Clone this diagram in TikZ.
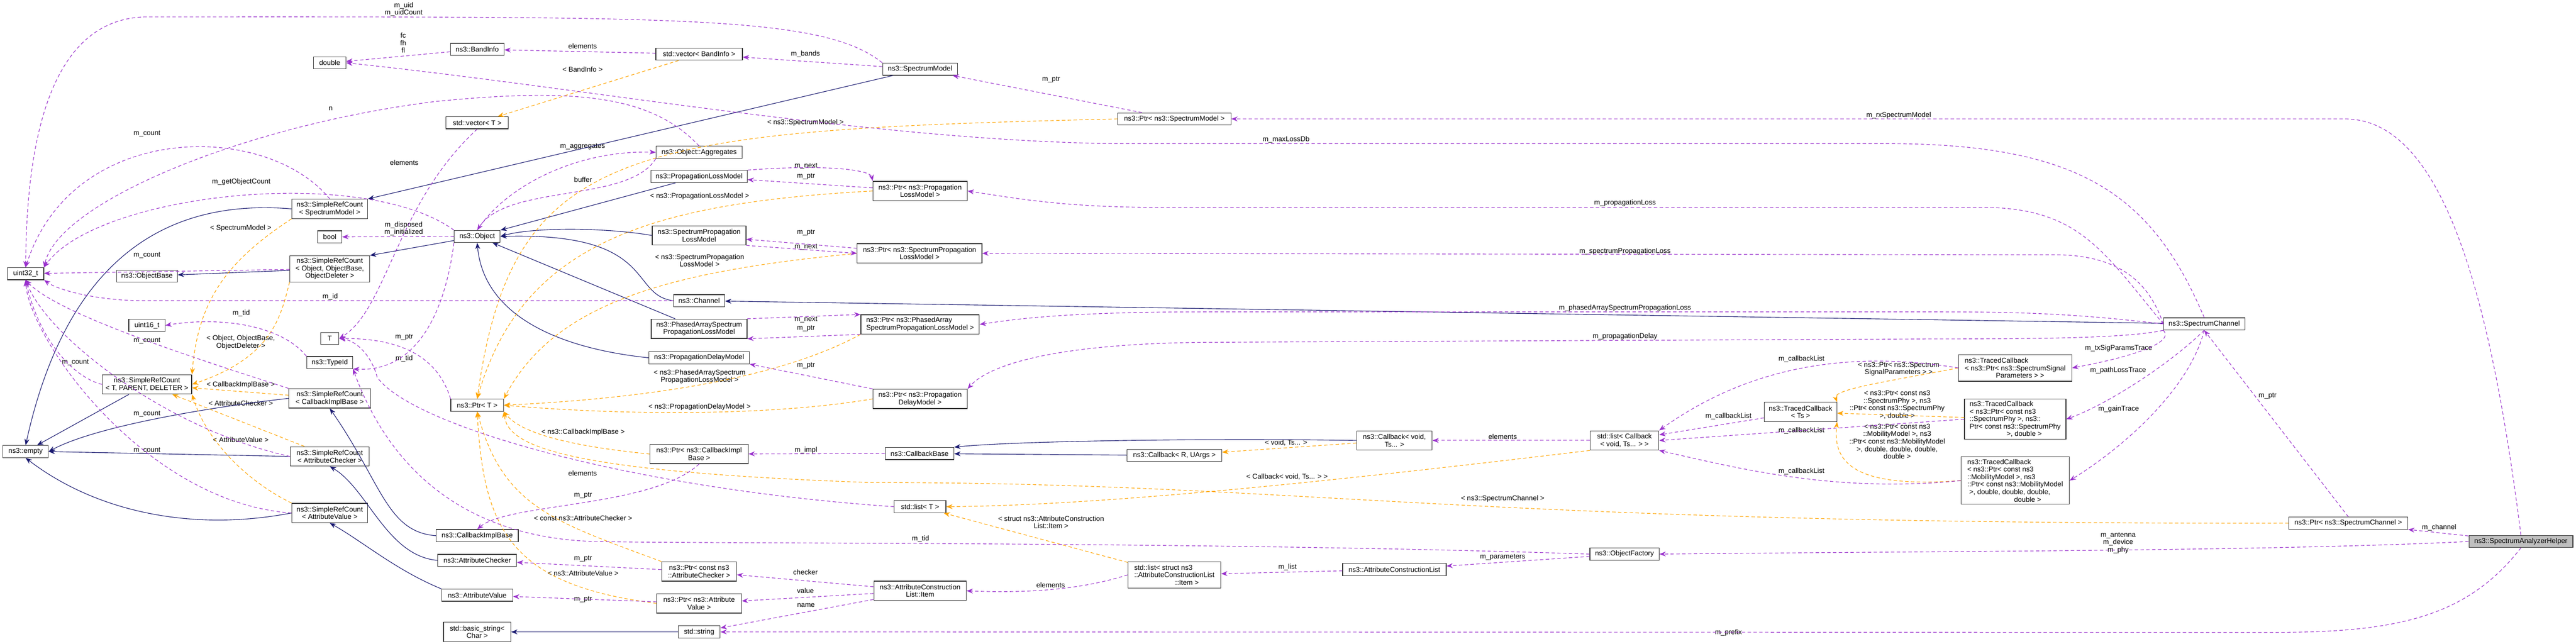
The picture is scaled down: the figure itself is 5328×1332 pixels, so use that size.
\documentclass[tikz,border=0pt]{standalone}
\usepackage{fontspec}
\setmainfont{Liberation Sans}
\usetikzlibrary{arrows.meta,calc}
\definecolor{navyc}{RGB}{25,25,112}
\definecolor{purp}{RGB}{154,50,205}
\definecolor{orng}{RGB}{255,165,0}
\newcommand\fs{\fontsize{14.5}{15.5}\selectfont}
\tikzset{
 box/.style={draw=black!80,line width=1.3pt,fill=white,font=\fs,align=center,inner sep=1pt},
 lbl/.style={font=\fs,align=center,inner sep=1pt},
 inh/.style={draw=navyc,line width=1.2pt,-{Stealth[length=13pt,width=10pt]}},
 use/.style={draw=purp,line width=1.2pt,dash pattern=on 7pt off 5pt,-{Stealth[length=13pt,width=10pt]}},
 tmpl/.style={draw=orng,line width=1.2pt,dash pattern=on 7pt off 5pt,-{Stealth[length=13pt,width=10pt]}},
}
\begin{document}
\begin{tikzpicture}[x=1pt,y=-1pt]
\fill[white] (0,0) rectangle (5328,1332);
\useasboundingbox (0,0) rectangle (5328,1332);
% nodes
\node[box,minimum width=75,minimum height=25] (u32) at (53,566) {uint32\_t};
\node[box,minimum width=67,minimum height=25] (dbl) at (682,130) {double};
\node[box,minimum width=157,minimum height=40] (srcSM) at (682,432) {ns3::SimpleRefCount\\< SpectrumModel >};
\node[box,minimum width=50,minimum height=25] (bool) at (682,490) {bool};
\node[box,minimum width=165,minimum height=54] (srcObj) at (682,556) {ns3::SimpleRefCount\\< Object, ObjectBase,\\ObjectDeleter >};
\node[box,minimum width=126,minimum height=25] (objb) at (304,571) {ns3::ObjectBase};
\node[box,minimum width=75,minimum height=25] (u16) at (304,673) {uint16\_t};
\node[box,minimum width=38,minimum height=25] (tT) at (682,700) {T};
\node[box,minimum width=95,minimum height=25] (tid) at (682,750) {ns3::TypeId};
\node[box,minimum width=185,minimum height=40] (srcTPD) at (304,795) {ns3::SimpleRefCount\\< T, PARENT, DELETER >};
\node[box,minimum width=169,minimum height=40] (srcCIB) at (682,824) {ns3::SimpleRefCount\\< CallbackImplBase >};
\node[box,minimum width=94,minimum height=25] (empty) at (53,934) {ns3::empty};
\node[box,minimum width=163,minimum height=40] (srcAC) at (682,944) {ns3::SimpleRefCount\\< AttributeChecker >};
\node[box,minimum width=157,minimum height=40] (srcAV) at (682,1061) {ns3::SimpleRefCount\\< AttributeValue >};
\node[box,minimum width=111,minimum height=25] (bi) at (987,102) {ns3::BandInfo};
\node[box,minimum width=179,minimum height=25] (vecBI) at (1446,112) {std::vector< BandInfo >};
\node[box,minimum width=129,minimum height=25] (vecT) at (987,254) {std::vector< T >};
\node[box,minimum width=178,minimum height=25] (agg) at (1446,315) {ns3::Object::Aggregates};
\node[box,minimum width=95,minimum height=25] (obj) at (987,489) {ns3::Object};
\node[box,minimum width=199,minimum height=25] (plm) at (1446,365) {ns3::PropagationLossModel};
\node[box,minimum width=194,minimum height=40] (splm) at (1446,487) {ns3::SpectrumPropagation\\LossModel};
\node[box,minimum width=106,minimum height=25] (chan) at (1446,622) {ns3::Channel};
\node[box,minimum width=198,minimum height=40] (pasplm) at (1446,680) {ns3::PhasedArraySpectrum\\PropagationLossModel};
\node[box,minimum width=208,minimum height=25] (pdm) at (1446,740) {ns3::PropagationDelayModel};
\node[box,minimum width=109,minimum height=25] (ptrT) at (987,838) {ns3::Ptr< T >};
\node[box,minimum width=203,minimum height=40] (ptrCIB) at (1446,939) {ns3::Ptr< ns3::CallbackImpl\\Base >};
\node[box,minimum width=170,minimum height=25] (cib) at (987,1108) {ns3::CallbackImplBase};
\node[box,minimum width=163,minimum height=25] (ac) at (987,1159) {ns3::AttributeChecker};
\node[box,minimum width=155,minimum height=40] (ptrAC) at (1446,1182) {ns3::Ptr< const ns3\\::AttributeChecker >};
\node[box,minimum width=147,minimum height=25] (av) at (987,1231) {ns3::AttributeValue};
\node[box,minimum width=175,minimum height=40] (ptrAV) at (1446,1248) {ns3::Ptr< ns3::Attribute\\Value >};
\node[box,minimum width=139,minimum height=40] (bstr) at (987,1307) {std::basic\_string<\\Char >};
\node[box,minimum width=87,minimum height=25] (str) at (1446,1307) {std::string};
\node[box,minimum width=155,minimum height=25] (sm) at (1903,143) {ns3::SpectrumModel};
\node[box,minimum width=234,minimum height=25] (ptrSM) at (2429,246) {ns3::Ptr< ns3::SpectrumModel >};
\node[box,minimum width=195,minimum height=40] (ptrPLM) at (1903,395) {ns3::Ptr< ns3::Propagation\\LossModel >};
\node[box,minimum width=258,minimum height=40] (ptrSPLM) at (1902,524) {ns3::Ptr< ns3::SpectrumPropagation\\LossModel >};
\node[box,minimum width=245,minimum height=40,align=left] (ptrPA) at (1903,671) {ns3::Ptr< ns3::PhasedArray\\SpectrumPropagationLossModel >};
\node[box,minimum width=195,minimum height=40] (ptrPDM) at (1903,825) {ns3::Ptr< ns3::Propagation\\DelayModel >};
\node[box,minimum width=142,minimum height=25] (cbb) at (1902,938) {ns3::CallbackBase};
\node[box,minimum width=196,minimum height=25] (cbR) at (2429,942) {ns3::Callback< R, UArgs >};
\node[box,minimum width=107,minimum height=25] (listT) at (1903,1048) {std::list< T >};
\node[box,minimum width=192,minimum height=54,align=left] (listS) at (2429,1189) {std::list< struct ns3\\::AttributeConstructionList\\\ \ \ \ \ \ \ \ \ \ \ \ \ \ \ \ \ \ \ \ \ ::Item >};
\node[box,minimum width=191,minimum height=40] (item) at (1903,1222) {ns3::AttributeConstruction\\List::Item};
\node[box,minimum width=156,minimum height=40] (cbV) at (2884,911) {ns3::Callback< void,\\Ts... >};
\node[box,minimum width=142,minimum height=40] (listCb) at (3360,911) {std::list< Callback\\< void, Ts... > >};
\node[box,minimum width=143,minimum height=25] (of) at (3360,1146) {ns3::ObjectFactory};
\node[box,minimum width=214,minimum height=25] (acl) at (2884,1178) {ns3::AttributeConstructionList};
\node[box,minimum width=150,minimum height=40] (tcTs) at (3724,852) {ns3::TracedCallback\\< Ts >};
\node[box,minimum width=234,minimum height=55,align=left] (tcSSP) at (4168,761) {ns3::TracedCallback\\< ns3::Ptr< ns3::SpectrumSignal\\\ \ \ \ \ \ \ \ \ \ \ \ \ \ \ \ Parameters > >};
\node[box,minimum width=210,minimum height=83,align=left] (tcSP) at (4168,867) {ns3::TracedCallback\\< ns3::Ptr< const ns3\\::SpectrumPhy >, ns3::\\Ptr< const ns3::SpectrumPhy\\\ \ \ \ \ \ \ \ \ \ \ \ \ \ \ \ \ \ \ >, double >};
\node[box,minimum width=224,minimum height=98,align=left] (tcMM) at (4168,994) {ns3::TracedCallback\\< ns3::Ptr< const ns3\\::MobilityModel >, ns3\\::Ptr< const ns3::MobilityModel\\\ >, double, double, double,\\\ \ \ \ \ \ \ \ \ \ \ \ \ \ \ \ \ \ \ \ \ \ \ \ double >};
\node[box,minimum width=168,minimum height=25] (sc) at (4559,670) {ns3::SpectrumChannel};
\node[box,minimum width=246,minimum height=25] (ptrSC) at (4857,1082) {ns3::Ptr< ns3::SpectrumChannel >};
\node[box,minimum width=215,minimum height=25,fill=black!25] (helper) at (5214,1120) {ns3::SpectrumAnalyzerHelper};
% labels
\node[lbl] (l1) at (835,19) {m\_uid\\m\_uidCount};
\node[lbl] (l2) at (834,89) {fc\\fh\\fl};
\node[lbl] (l3) at (684,225) {n};
\node[lbl] (l4) at (304,277) {m\_count};
\node[lbl] (l5) at (836,336) {elements};
\node[lbl] (l6) at (499,376) {m\_getObjectCount};
\node[lbl] (l7) at (498,472) {< SpectrumModel >};
\node[lbl] (l8) at (835,473) {m\_disposed\\m\_initialized};
\node[lbl] (l9) at (304,528) {m\_count};
\node[lbl] (l10) at (683,614) {m\_id};
\node[lbl] (l11) at (499,648) {m\_tid};
\node[lbl] (l12) at (498,708) {< Object, ObjectBase,\\ObjectDeleter >};
\node[lbl] (l13) at (304,705) {m\_count};
\node[lbl] (l14) at (156,750) {m\_count};
\node[lbl] (l15) at (836,697) {m\_ptr};
\node[lbl] (l16) at (836,742) {m\_tid};
\node[lbl] (l17) at (498,796) {< CallbackImplBase >};
\node[lbl] (l18) at (498,834) {< AttributeChecker >};
\node[lbl] (l19) at (304,856) {m\_count};
\node[lbl] (l20) at (498,910) {< AttributeValue >};
\node[lbl] (l21) at (304,932) {m\_count};
\node[lbl] (l22) at (1205,95) {elements};
\node[lbl] (l23) at (1666,112) {m\_bands};
\node[lbl] (l24) at (1205,144) {< BandInfo >};
\node[lbl] (l25) at (1666,254) {< ns3::SpectrumModel >};
\node[lbl] (l26) at (1205,303) {m\_aggregates};
\node[lbl] (l27) at (1667,344) {m\_next};
\node[lbl] (l28) at (1667,365) {m\_ptr};
\node[lbl] (l29) at (1206,371) {buffer};
\node[lbl] (l30) at (1447,406) {< ns3::PropagationLossModel >};
\node[lbl] (l31) at (1667,481) {m\_ptr};
\node[lbl] (l32) at (1667,511) {m\_next};
\node[lbl] (l33) at (1447,539) {< ns3::SpectrumPropagation\\LossModel >};
\node[lbl] (l34) at (1667,661) {m\_next};
\node[lbl] (l35) at (1667,679) {m\_ptr};
\node[lbl] (l36) at (1667,756) {m\_ptr};
\node[lbl] (l37) at (1447,779) {< ns3::PhasedArraySpectrum\\PropagationLossModel >};
\node[lbl] (l38) at (1447,842) {< ns3::PropagationDelayModel >};
\node[lbl] (l39) at (1206,894) {< ns3::CallbackImplBase >};
\node[lbl] (l40) at (1667,931) {m\_impl};
\node[lbl] (l41) at (1205,979) {elements};
\node[lbl] (l42) at (1206,1025) {m\_ptr};
\node[lbl] (l43) at (1206,1072) {< const ns3::AttributeChecker >};
\node[lbl] (l44) at (1206,1156) {m\_ptr};
\node[lbl] (l45) at (1666,1184) {checker};
\node[lbl] (l46) at (1206,1186) {< ns3::AttributeValue >};
\node[lbl] (l47) at (1666,1222) {value};
\node[lbl] (l48) at (1206,1240) {m\_ptr};
\node[lbl] (l49) at (1667,1252) {name};
\node[lbl] (l50) at (2174,165) {m\_ptr};
\node[lbl] (l51) at (2660,289) {m\_maxLossDb};
\node[lbl] (l52) at (3361,420) {m\_propagationLoss};
\node[lbl] (l53) at (3361,520) {m\_spectrumPropagationLoss};
\node[lbl] (l54) at (3361,637) {m\_phasedArraySpectrumPropagationLoss};
\node[lbl] (l55) at (3361,696) {m\_propagationDelay};
\node[lbl] (l56) at (2660,916) {< void, Ts... >};
\node[lbl] (l57) at (2662,986) {< Callback< void, Ts... > >};
\node[lbl] (l58) at (2174,1080) {< struct ns3::AttributeConstruction\\List::Item >};
\node[lbl] (l59) at (1904,1115) {m\_tid};
\node[lbl] (l60) at (2173,1210) {elements};
\node[lbl] (l61) at (2663,1173) {m\_list};
\node[lbl] (l62) at (3108,903) {elements};
\node[lbl] (l63) at (3575,861) {m\_callbackList};
\node[lbl] (l64) at (3108,1032) {< ns3::SpectrumChannel >};
\node[lbl] (l65) at (3108,1152) {m\_parameters};
\node[lbl] (l66) at (3575,1308) {m\_prefix};
\node[lbl] (l67) at (3927,239) {m\_rxSpectrumModel};
\node[lbl] (l68) at (3726,743) {m\_callbackList};
\node[lbl] (l69) at (3927,763) {< ns3::Ptr< ns3::Spectrum\\SignalParameters > >};
\node[lbl] (l70) at (4382,720) {m\_txSigParamsTrace};
\node[lbl] (l71) at (4381,766) {m\_pathLossTrace};
\node[lbl] (l72) at (3924,837) {< ns3::Ptr< const ns3\\::SpectrumPhy >, ns3\\::Ptr< const ns3::SpectrumPhy\\>, double >};
\node[lbl] (l73) at (4382,846) {m\_gainTrace};
\node[lbl] (l74) at (3726,891) {m\_callbackList};
\node[lbl] (l75) at (3924,913) {< ns3::Ptr< const ns3\\::MobilityModel >, ns3\\::Ptr< const ns3::MobilityModel\\>, double, double, double,\\double >};
\node[lbl] (l76) at (3726,975) {m\_callbackList};
\node[lbl] (l77) at (4381,1123) {m\_antenna\\m\_device\\m\_phy};
\node[lbl] (l78) at (4690,819) {m\_ptr};
\node[lbl] (l79) at (5045,1091) {m\_channel};
% inheritance
\draw[inh] (srcSM.west) .. controls (400,415) and (150,480) .. (empty.north);
\draw[inh] (sm) -- (srcSM.north east);
\draw[inh] (srcObj) -- (objb);
\draw[inh] (obj) -- (srcObj.north east);
\draw[inh] (plm) -- (obj);
\draw[inh] (splm.west) .. controls (1250,470) and (1100,470) .. (obj.east);
\draw[inh] (chan.west) .. controls (1300,610) and (1360,480) .. (obj.east);
\draw[inh] (pasplm) -- (obj);
\draw[inh] (pdm.west) .. controls (1150,720) and (1000,650) .. (obj.south);
\draw[inh] (sc) -- (chan);
\draw[inh] (srcTPD) -- (empty);
\draw[inh] (srcCIB.west) .. controls (450,840) and (200,880) .. (empty.east);
\draw[inh] (srcAC.west) -- (empty.east);
\draw[inh] (srcAV.west) .. controls (400,1100) and (200,1060) .. (empty.south);
\draw[inh] (cib.west) .. controls (800,1100) and (790,1000) .. (srcCIB.south);
\draw[inh] (ac.west) .. controls (800,1150) and (760,1010) .. (srcAC.south);
\draw[inh] (av.north west) .. controls (820,1180) and (750,1120) .. (srcAV.south);
\draw[inh] (str) -- (bstr);
\draw[inh] (cbV.west) .. controls (2500,906) and (2100,912) .. (cbb.north east);
\draw[inh] (cbR) -- (cbb);
% templates
\draw[tmpl] (srcSM.south west) .. controls (470,540) and (410,620) .. (srcTPD.north east);
\draw[tmpl] (srcObj.south west) .. controls (580,660) and (560,740) .. (srcTPD.east);
\draw[tmpl] (srcCIB) -- (srcTPD);
\draw[tmpl] (srcAC) -- (srcTPD);
\draw[tmpl] (srcAV.north west) .. controls (520,1000) and (430,920) .. (srcTPD.south east);
\draw[tmpl] (vecBI) -- (vecT);
\draw[tmpl] (ptrSM.west) .. controls (1300,270) and (1060,300) .. (ptrT.north);
\draw[tmpl] (ptrPLM.west) .. controls (1350,420) and (1080,500) .. (ptrT.north);
\draw[tmpl] (ptrSPLM.west) .. controls (1400,560) and (1150,620) .. (ptrT.north east);
\draw[tmpl] (ptrPA.south west) .. controls (1600,790) and (1300,826) .. (ptrT.east);
\draw[tmpl] (ptrPDM.west) .. controls (1600,860) and (1300,860) .. (ptrT.east);
\draw[tmpl] (ptrCIB.west) .. controls (1200,925) and (1080,900) .. (ptrT.south east);
\draw[tmpl] (ptrAC.north west) .. controls (1150,1080) and (1040,1050) .. (ptrT.south);
\draw[tmpl] (ptrAV.west) .. controls (1060,1210) and (1000,1100) .. (ptrT.south);
\draw[tmpl] (ptrSC.west) .. controls (3000,1085) and (2700,998) .. (1800,998) .. controls (1150,975) and (1050,920) .. (ptrT.south east);
\draw[tmpl] (cbV) -- (cbR);
\draw[tmpl] (listCb.south west) .. controls (2800,990) and (2300,1045) .. (listT.east);
\draw[tmpl] (listS) -- (listT);
\draw[tmpl] (tcSSP.west) .. controls (3900,790) and (3790,805) .. (tcTs.north east);
\draw[tmpl] (tcSP) -- (tcTs);
\draw[tmpl] (tcMM.west) .. controls (3840,1010) and (3790,960) .. (tcTs.south east);
% usage
\draw[use] (sm.north west) .. controls (1700,30) and (1400,35) .. (300,35) .. controls (100,40) and (55,300) .. (u32.north);
\draw[use] (bi) -- (dbl);
\draw[use] (sc.north) .. controls (4450,400) and (4300,297) .. (3900,297) -- (2300,297) .. controls (1800,290) and (1200,180) .. (dbl.east);
\draw[use] (sm) -- (vecBI);
\draw[use] (vecBI) -- (bi);
\draw[use] (vecT.south) .. controls (820,420) and (800,640) .. (tT.east);
\draw[use] (agg.north) .. controls (1350,200) and (1200,180) .. (900,210) .. controls (500,260) and (120,420) .. (u32.north east);
\draw[use] (srcSM.north) .. controls (550,250) and (150,250) .. (u32.north);
\draw[use] (obj.north west) .. controls (750,340) and (200,400) .. (u32.north east);
\draw[use] (obj) -- (bool);
\draw[use] (srcObj) -- (u32);
\draw[use] (chan.west) -- (300,622) .. controls (200,622) and (120,600) .. (u32.south east);
\draw[use] (tid.north west) .. controls (580,670) and (450,655) .. (u16.east);
\draw[use] (obj.south west) .. controls (920,650) and (860,770) .. (tid.south east);
\draw[use] (ptrT.north west) .. controls (900,720) and (800,700) .. (tT.east);
\draw[use] (srcTPD.west) .. controls (150,780) and (80,700) .. (u32.south);
\draw[use] (srcCIB.north west) .. controls (400,740) and (120,650) .. (u32.south);
\draw[use] (srcAC.west) .. controls (350,890) and (100,700) .. (u32.south);
\draw[use] (srcAV.west) .. controls (300,1040) and (60,700) .. (u32.south);
\draw[use] (obj.north) .. controls (1050,380) and (1200,310) .. (agg.west);
\draw[use] (agg.south west) .. controls (1300,420) and (1050,380) .. (obj.north);
\draw[use] (ptrPLM) -- (plm);
\draw[use] (plm.north east) .. controls (1700,340) and (1800,350) .. (ptrPLM.north west);
\draw[use] (ptrSPLM) -- (splm);
\draw[use] (splm.south east) -- (ptrSPLM.west);
\draw[use] (ptrPA.south west) -- (pasplm.south east);
\draw[use] (pasplm.north east) -- (ptrPA.north west);
\draw[use] (ptrPDM.north west) -- (pdm.south east);
\draw[use] (ptrSM) -- (sm);
\draw[use] (helper.north) .. controls (5150,600) and (5050,246) .. (4850,246) -- (ptrSM.east);
\draw[use] (sc.west) .. controls (4350,520) and (4300,429) .. (4100,429) -- (2400,429) .. controls (2200,429) and (2100,410) .. (ptrPLM.east);
\draw[use] (sc.west) .. controls (4450,600) and (4400,527) .. (4250,527) -- (ptrSPLM.east);
\draw[use] (sc.west) .. controls (4300,650) and (4200,645) .. (4000,645) -- (2500,645) .. controls (2200,645) and (2100,660) .. (ptrPA.east);
\draw[use] (sc.south west) .. controls (4400,700) and (4200,701) .. (4000,701) -- (2500,708) .. controls (2200,710) and (2050,750) .. (ptrPDM.north east);
\draw[use] (sc.south west) .. controls (4500,710) and (4400,740) .. (tcSSP.east);
\draw[use] (sc.south) .. controls (4480,760) and (4350,840) .. (tcSP.east);
\draw[use] (sc.south) .. controls (4530,800) and (4400,920) .. (tcMM.east);
\draw[use] (tcSSP.west) .. controls (3800,720) and (3600,770) .. (listCb.north east);
\draw[use] (tcTs) -- (listCb);
\draw[use] (tcSP.west) -- (listCb.east);
\draw[use] (tcMM.west) .. controls (3800,1020) and (3600,970) .. (listCb.south east);
\draw[use] (listCb) -- (cbV);
\draw[use] (cbb) -- (ptrCIB);
\draw[use] (ptrCIB.south) .. controls (1350,1050) and (1050,1040) .. (cib.north);
\draw[use] (ptrAC) -- (ac);
\draw[use] (ptrAV) -- (av);
\draw[use] (item) -- (ptrAC);
\draw[use] (item) -- (ptrAV);
\draw[use] (item) -- (str);
\draw[use] (listS.west) .. controls (2250,1215) and (2150,1228) .. (item.east);
\draw[use] (acl) -- (listS);
\draw[use] (of) -- (acl);
\draw[use] (of.west) .. controls (2500,1120) and (1500,1125) .. (1230,1120) .. controls (900,1110) and (780,900) .. (tid.south east);
\draw[use] (listT.west) .. controls (1300,1010) and (850,880) .. (780,780) .. controls (770,740) and (740,705) .. (tT.east);
\draw[use] (helper.west) .. controls (4700,1140) and (4000,1140) .. (of.east);
\draw[use] (helper) -- (ptrSC);
\draw[use] (ptrSC.north) -- (sc.south);
\draw[use] (helper.south) .. controls (5100,1280) and (4950,1308) .. (4700,1308) -- (str.east);
\end{tikzpicture}
\end{document}
